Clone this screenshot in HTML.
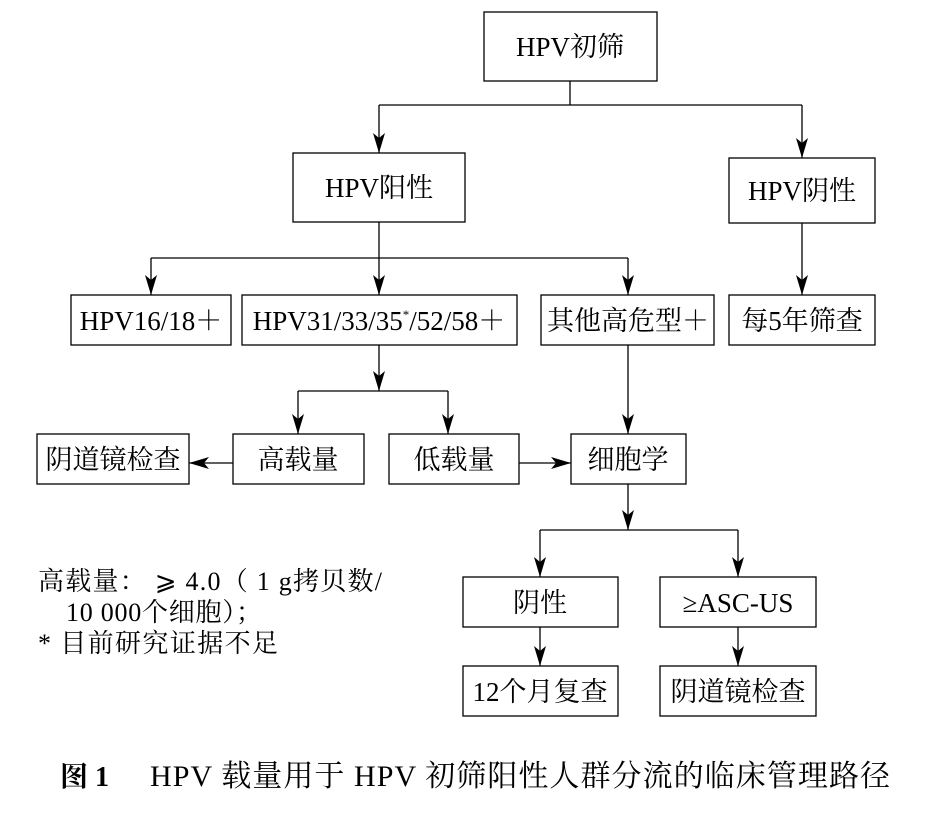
<!DOCTYPE html>
<html><head><meta charset="utf-8"><style>
html,body{margin:0;padding:0;background:#fff;}
svg{display:block;}
text{font-family:"Liberation Serif","Noto Serif CJK SC","Noto Sans CJK SC",serif;fill:#000;}
</style></head><body>
<svg width="932" height="819" viewBox="0 0 932 819" xmlns="http://www.w3.org/2000/svg">
<defs>
<marker id="a" viewBox="0 0 20 12" refX="20" refY="6" markerWidth="20" markerHeight="12" markerUnits="userSpaceOnUse" orient="auto">
<path d="M0,0 L20,6 L0,12 L5,6 Z" fill="#000"/>
</marker>
</defs>
<g fill="#fff" stroke="#000" stroke-width="1.3">
<rect x="484" y="12" width="173" height="69"/>
<rect x="293" y="153" width="172" height="69"/>
<rect x="729" y="158" width="146" height="65"/>
<rect x="71" y="295" width="160" height="50"/>
<rect x="242" y="295" width="275" height="50"/>
<rect x="541" y="295" width="173" height="50"/>
<rect x="729" y="295" width="146" height="50"/>
<rect x="37" y="434" width="152" height="50"/>
<rect x="233" y="434" width="131" height="50"/>
<rect x="389" y="434" width="130" height="50"/>
<rect x="571" y="434" width="115" height="50"/>
<rect x="463" y="577" width="155" height="50"/>
<rect x="660" y="577" width="156" height="50"/>
<rect x="463" y="666" width="155" height="50"/>
<rect x="660" y="666" width="156" height="50"/>
</g>
<g stroke="#000" stroke-width="1.3" fill="none">
<path d="M570,81 V105 M379,105 H802"/>
<path d="M379,105 V153" marker-end="url(#a)"/>
<path d="M802,105 V158" marker-end="url(#a)"/>
<path d="M379,222 V258 M151,258 H628"/>
<path d="M151,258 V295" marker-end="url(#a)"/>
<path d="M379,258 V295" marker-end="url(#a)"/>
<path d="M628,258 V295" marker-end="url(#a)"/>
<path d="M802,223 V295" marker-end="url(#a)"/>
<path d="M379,345 V391" marker-end="url(#a)"/>
<path d="M298,391 H448"/>
<path d="M298,391 V434" marker-end="url(#a)"/>
<path d="M448,391 V434" marker-end="url(#a)"/>
<path d="M233,463 H189" marker-end="url(#a)"/>
<path d="M519,463 H571" marker-end="url(#a)"/>
<path d="M628,345 V434" marker-end="url(#a)"/>
<path d="M628,484 V530" marker-end="url(#a)"/>
<path d="M540,530 H738"/>
<path d="M540,530 V577" marker-end="url(#a)"/>
<path d="M738,530 V577" marker-end="url(#a)"/>
<path d="M540,627 V666" marker-end="url(#a)"/>
<path d="M738,627 V666" marker-end="url(#a)"/>
</g>
<g font-size="27" text-anchor="middle">
<text x="570" y="56">HPV初筛</text>
<text x="379" y="197">HPV阳性</text>
<text x="802" y="200">HPV阴性</text>
<text x="151" y="330">HPV16/18＋</text>
<text x="379" y="330">HPV31/33/35<tspan font-size="13" dy="-11">*</tspan><tspan dy="11">/52/58＋</tspan></text>
<text x="628" y="330">其他高危型＋</text>
<text x="802" y="330">每5年筛查</text>
<text x="113" y="469">阴道镜检查</text>
<text x="298" y="469">高载量</text>
<text x="454" y="469">低载量</text>
<text x="628" y="469">细胞学</text>
<text x="540" y="612">阴性</text>
<text x="738" y="612">≥ASC-US</text>
<text x="540" y="701">12个月复查</text>
<text x="738" y="701">阴道镜检查</text>
</g>
<g font-size="26" xml:space="preserve">
<text x="38" y="590" textLength="344" lengthAdjust="spacing">高载量：  ⩾ 4.0（ 1 g拷贝数/</text>
<text x="66" y="621" textLength="196" lengthAdjust="spacing">10 000个细胞）；</text>
<text x="38" y="652" textLength="240" lengthAdjust="spacing">* 目前研究证据不足</text>
</g>
<text x="60" y="786" font-size="28" font-weight="bold" font-family="Liberation Sans,Noto Sans CJK SC,sans-serif">图 1</text>
<text x="150" y="786" font-size="30" textLength="740" lengthAdjust="spacing">HPV 载量用于 HPV 初筛阳性人群分流的临床管理路径</text>
</svg>
</body></html>
